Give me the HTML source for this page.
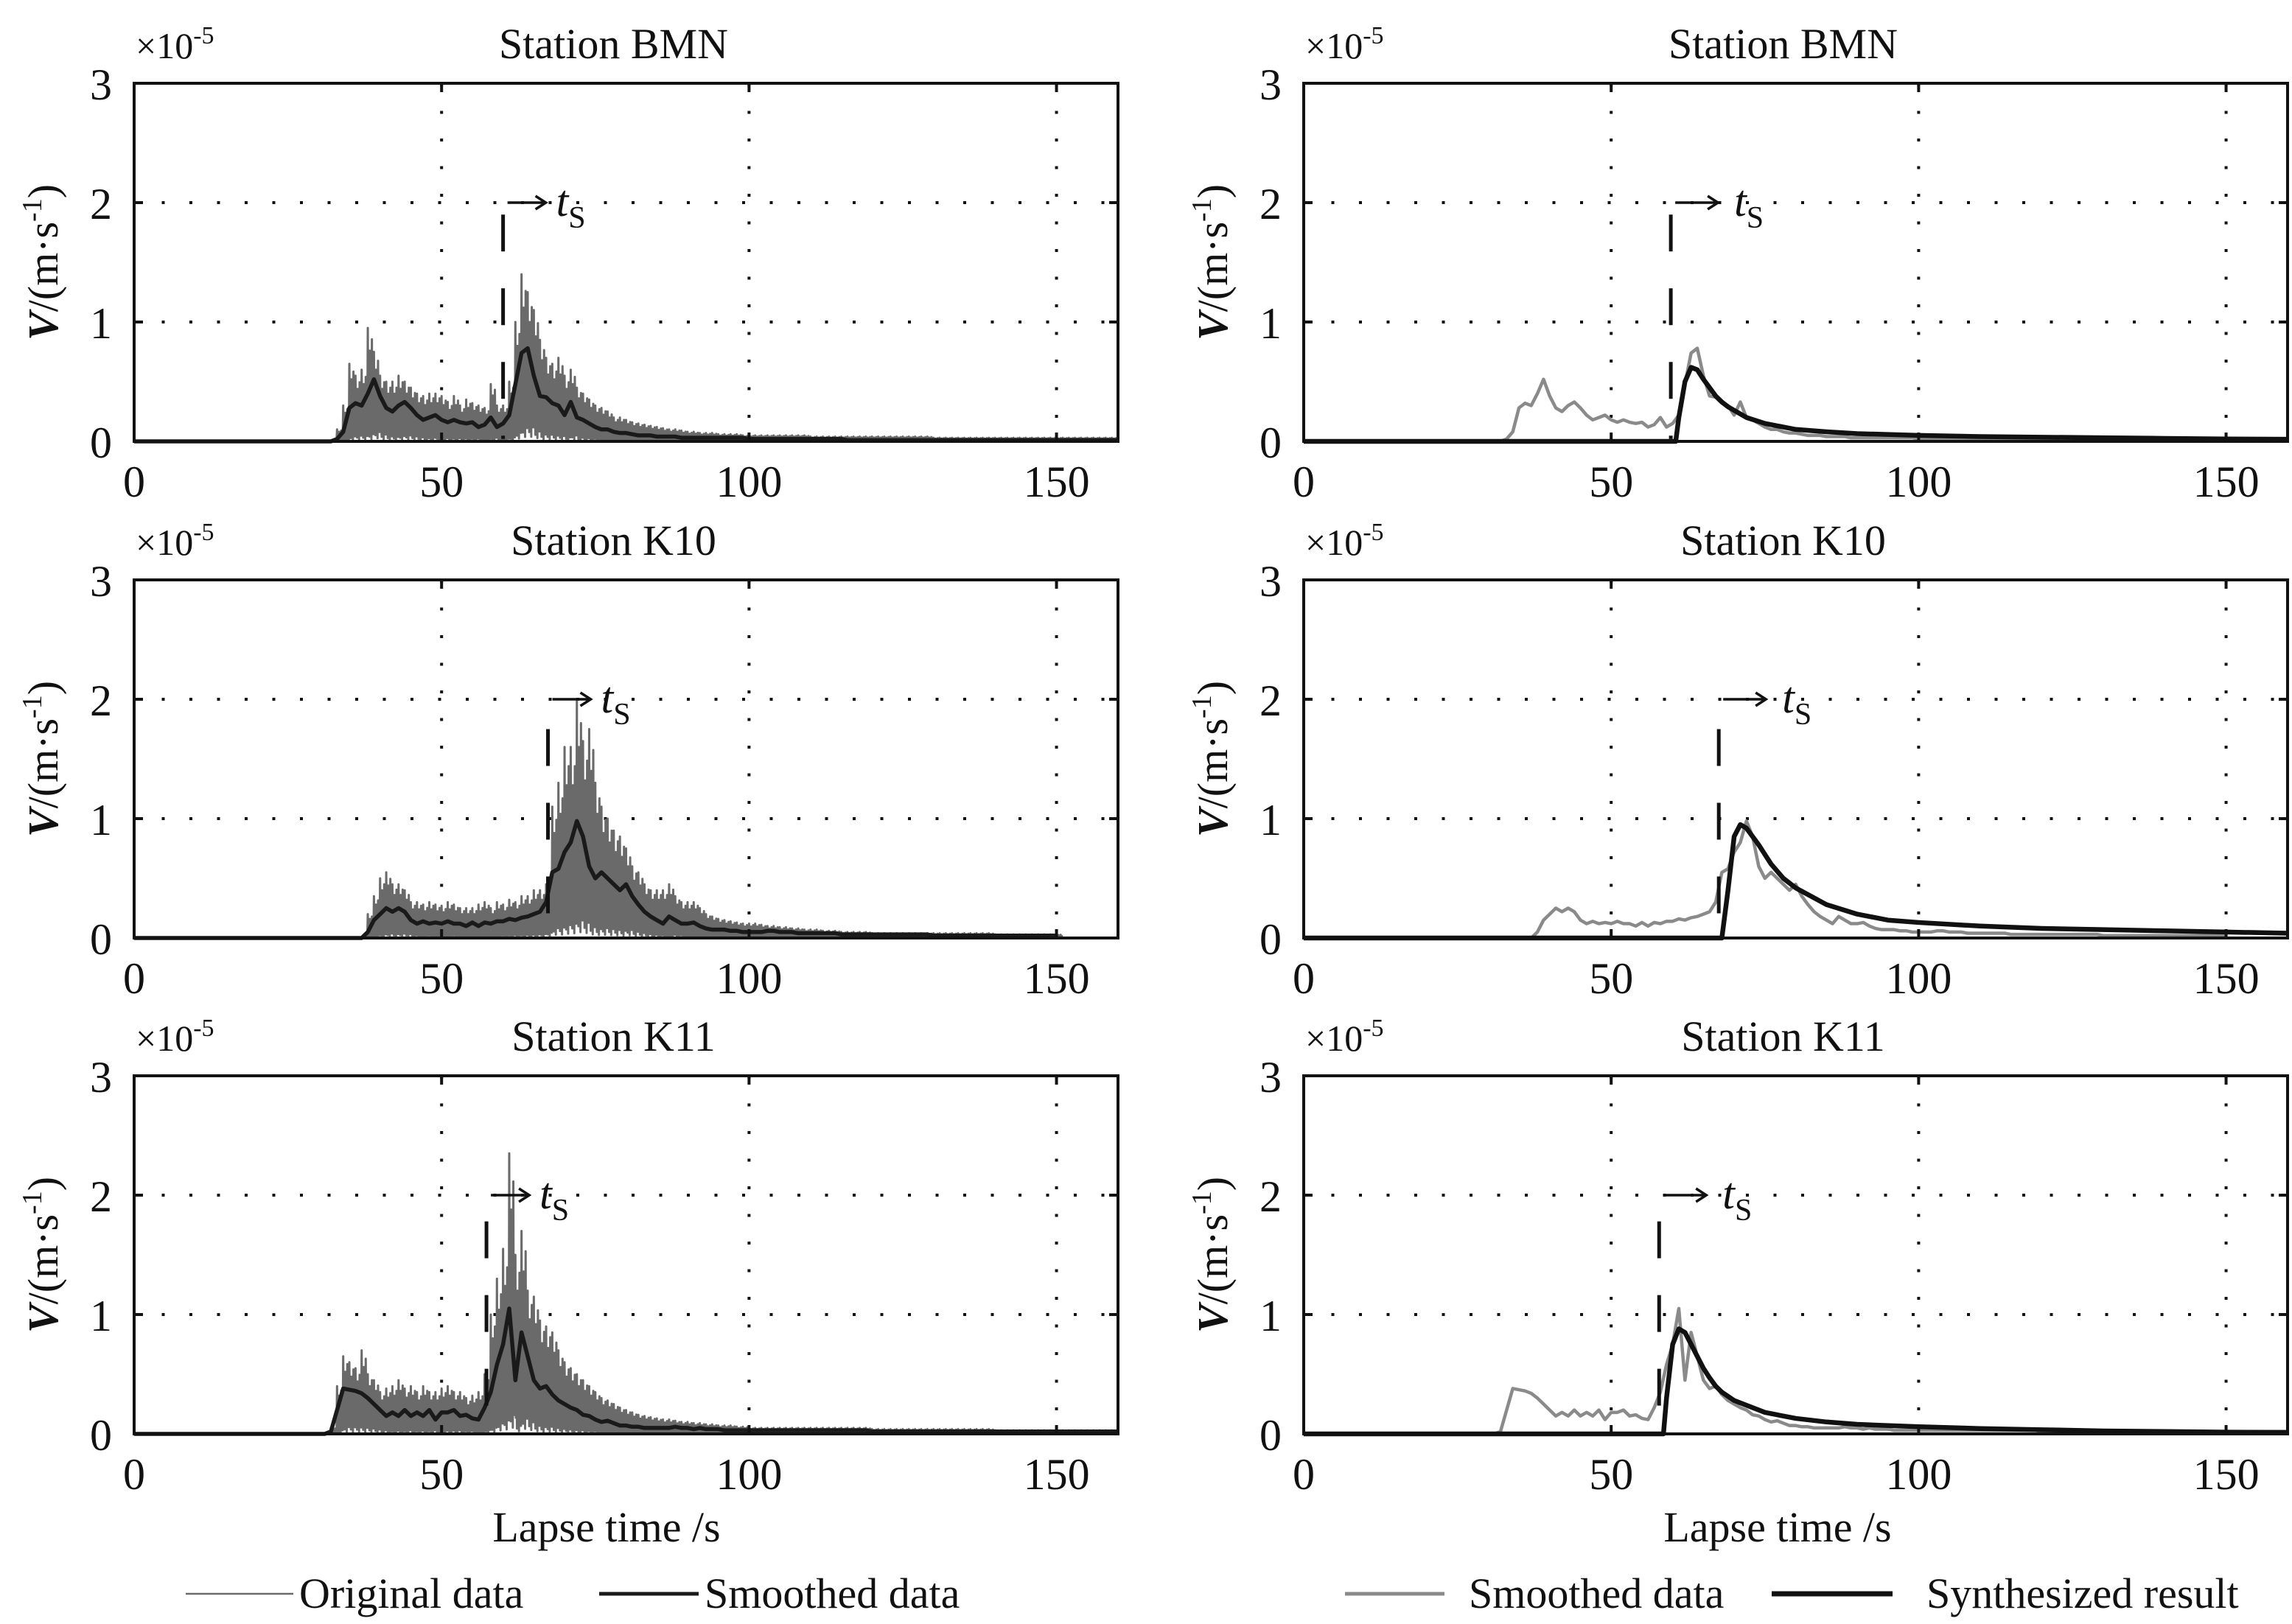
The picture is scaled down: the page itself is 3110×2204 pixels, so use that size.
<!DOCTYPE html>
<html><head><meta charset="utf-8"><style>
html,body{margin:0;padding:0;background:#fff;}
svg{display:block;}
text{font-family:"Liberation Serif",serif;fill:#111;}
</style></head><body>
<svg id="fig" width="3110" height="2204" viewBox="0 0 3110 2204" xmlns="http://www.w3.org/2000/svg"></svg>
<script>
function rep(n,v){return Array(n).fill(v);}
// time axis starts at 30 s, 1 s step
const T0 = 30;
const xTicks = [0,50,100,150];
const yTicks = [0,1,2,3];
const stations = ["Station BMN","Station K10","Station K11"];
// smoothed data (x1e-5 m/s)
const smBMN = [0,0,0,0.02,0.08,0.28,0.32,0.30,0.40,0.52,
 0.38,0.28,0.25,0.30,0.33,0.28,0.22,0.18,0.20,0.22,
 0.18,0.16,0.18,0.16,0.15,0.16,0.12,0.14,0.20,0.12,
 0.15,0.22,0.48,0.74,0.78,0.55,0.38,0.37,0.32,0.30,
 0.22,0.33,0.20,0.18,0.15,0.12,0.10,0.10,0.08,0.07,
 0.07,0.06,0.05,0.05,0.05,0.04,0.04,0.04,0.04,0.03,
 ...rep(10,0.03),...rep(16,0.02),...rep(45,0.01)];
const pkBMN = [0,0,0,0.10,0.30,0.65,0.55,0.60,0.95,0.75,
 0.55,0.50,0.50,0.55,0.50,0.45,0.40,0.38,0.40,0.40,
 0.38,0.33,0.38,0.30,0.35,0.32,0.30,0.28,0.48,0.30,
 0.30,0.50,1.00,1.40,1.25,1.10,0.85,0.70,0.65,0.70,
 0.55,0.60,0.45,0.40,0.35,0.30,0.28,0.25,0.20,0.20,
 0.18,0.16,0.15,0.14,0.13,0.12,0.11,0.10,0.10,0.09,
 0.08,0.08,0.07,0.07,0.07,0.06,0.06,0.06,0.06,0.05,
 ...rep(10,0.05),...rep(20,0.04),...rep(31,0.03)];
const smK10 = [...rep(8,0),
 0.05,0.15,0.20,0.25,0.22,0.25,0.22,0.15,0.12,0.14,0.12,0.13,
 0.12,0.14,0.12,0.12,0.10,0.13,0.10,0.13,0.12,0.14,
 0.14,0.16,0.15,0.17,0.18,0.20,0.22,0.30,
 0.55,0.58,0.72,0.80,0.98,0.85,0.60,0.50,0.55,0.50,0.45,0.40,
 0.45,0.35,0.28,0.22,0.18,0.15,0.12,0.18,0.15,0.12,
 0.12,0.13,0.10,0.08,0.07,0.07,0.07,0.06,0.06,0.05,
 0.05,0.05,0.05,0.06,0.06,0.05,0.05,0.05,0.04,0.04,
 ...rep(5,0.04),...rep(15,0.03),...rep(21,0.02)];
const pkK10 = [...rep(8,0),
 0.20,0.35,0.50,0.55,0.45,0.45,0.40,0.30,0.30,0.28,0.30,0.28,
 0.27,0.30,0.28,0.25,0.25,0.25,0.28,0.30,0.25,0.30,
 0.28,0.32,0.30,0.35,0.35,0.40,0.40,0.45,
 1.10,1.30,1.60,1.60,2.00,1.65,1.75,1.30,1.10,1.00,0.90,0.85,
 0.75,0.60,0.55,0.45,0.40,0.40,0.40,0.45,0.35,0.30,
 0.30,0.30,0.25,0.20,0.18,0.16,0.15,0.14,0.13,0.12,
 0.12,0.12,0.11,0.10,0.10,0.09,0.09,0.08,0.08,0.07,
 0.07,0.07,0.06,0.06,0.06,0.05,0.05,0.05,0.05,0.05,
 ...rep(20,0.04),...rep(21,0.03)];
const smK11 = [0,0,0.02,0.20,0.38,0.37,0.36,0.34,0.30,0.25,
 0.20,0.15,0.18,0.15,0.20,0.15,0.18,0.15,0.20,0.12,
 0.18,0.18,0.20,0.15,0.16,0.13,0.12,0.22,0.35,0.58,
 0.75,1.05,0.45,0.85,0.65,0.45,0.38,0.40,0.33,0.28,
 0.25,0.22,0.20,0.16,0.15,0.12,0.10,0.11,0.09,0.07,
 0.07,0.06,0.06,0.05,0.05,0.05,0.05,0.05,0.06,0.05,
 0.05,0.04,0.05,0.04,0.04,0.04,0.03,0.03,0.03,0.03,
 ...rep(20,0.03),...rep(41,0.02)];
const pkK11 = [0,0,0.05,0.40,0.65,0.60,0.55,0.70,0.50,0.45,
 0.35,0.38,0.40,0.45,0.38,0.40,0.35,0.40,0.35,0.35,
 0.38,0.40,0.35,0.35,0.30,0.32,0.35,0.50,1.00,1.30,
 1.55,2.35,1.50,1.70,1.20,1.15,0.95,0.90,0.85,0.70,
 0.60,0.55,0.50,0.45,0.40,0.35,0.30,0.28,0.25,0.22,
 0.20,0.18,0.16,0.15,0.14,0.13,0.12,0.12,0.11,0.10,
 0.10,0.09,0.09,0.08,0.08,0.07,0.07,0.07,0.06,0.06,
 ...rep(20,0.05),...rep(20,0.04),...rep(21,0.03)];
// synthesized result knots
const synT_BMN = [0,60.5,61,62,63,64,65,66,67,68,69,70,72,75,80,85,90,100,110,120,130,140,150,160];
const synV_BMN = [0,0,0.2,0.5,0.62,0.6,0.52,0.45,0.38,0.33,0.29,0.26,0.2,0.15,0.1,0.08,0.065,0.05,0.04,0.035,0.03,0.025,0.02,0.018];
const synT_K10 = [0,68,69,70,71,72,73,74,75,76,78,80,85,90,95,100,110,120,130,140,150,160];
const synV_K10 = [0,0,0.4,0.85,0.95,0.92,0.85,0.78,0.7,0.62,0.5,0.42,0.28,0.2,0.15,0.13,0.1,0.08,0.07,0.06,0.05,0.04];
const synT_K11 = [0,58.5,59,60,61,62,63,64,65,66,67,68,70,75,80,85,90,100,110,120,130,140,150,160];
const synV_K11 = [0,0,0.3,0.75,0.88,0.85,0.75,0.65,0.55,0.47,0.4,0.35,0.28,0.18,0.13,0.1,0.08,0.06,0.045,0.035,0.025,0.02,0.015,0.012];
// S-wave onset marks
const tsLeft = [60,67.3,57.3];
const tsRight = [59.7,67.5,57.8];
const tsTop = [1.9,1.75,1.78];

const smooth=[smBMN,smK10,smK11], peaks=[pkBMN,pkK10,pkK11];
const synT=[synT_BMN,synT_K10,synT_K11], synV=[synV_BMN,synV_K10,synV_K11];

const NS="http://www.w3.org/2000/svg";
const svg=document.getElementById('fig');
function el(tag,attrs,parent,txt){const e=document.createElementNS(NS,tag);for(const k in attrs)e.setAttribute(k,attrs[k]);if(txt!==undefined)e.textContent=txt;(parent||svg).appendChild(e);return e;}

const rowsTop=[113,787,1460], H=486;
const cols=[{L:182,R:1517},{L:1769,R:3104}];
const pat=[1,0.5,0.8,0.35,0.9,0.6], lowPat=[0.3,0.1,0.4,0.05,0.25,0.15];

for(let c=0;c<2;c++){
 for(let r=0;r<3;r++){
  const L=cols[c].L,R=cols[c].R,Tp=rowsTop[r],B=Tp+H;
  const sx=t=>L+(R-L)*t/160, sy=v=>B-H*v/3;
  const g=el('g',{});
  
  
  for(const t of [50,100,150]){const l=el('line',{x1:sx(t),x2:sx(t),y1:Tp,y2:B,stroke:'#111','stroke-width':4,'stroke-dasharray':'4 33.5'},g);}
  for(const v of [1,2]){const l=el('line',{x1:L,x2:R,y1:sy(v),y2:sy(v),stroke:'#111','stroke-width':4,'stroke-dasharray':'4 33.5'},g);}
  const sm=smooth[r], pk=peaks[r];
  if(c===0){
   let pts=[];
   const n=pat.length;
   for(let i=0;i<sm.length;i++){const t=T0+i;if(t>160)break;
    for(let k=0;k<n;k++){const tt=t+k/n;if(tt>160)break;
     pts.push(sx(tt)+','+sy((pk[i]||0)*pat[k]));
     pts.push(sx(tt+0.5/n)+','+sy((sm[i]||0)*lowPat[k]));}}
   const o=el('polyline',{points:'0,0',fill:'none',stroke:'#6a6a6a','stroke-width':3,'stroke-linejoin':'round'},g);
   o.setAttribute('points',sx(0)+','+sy(0)+' '+sx(T0)+','+sy(0)+' '+pts.join(' '));
   
   let sp=[sx(0)+','+sy(0)];
   for(let i=0;i<sm.length;i++){const t=T0+i;if(t>160)break;sp.push(sx(t)+','+sy(sm[i]));}
   const s=el('polyline',{points:sp.join(' '),fill:'none',stroke:'#1a1a1a','stroke-width':5.5,'stroke-linejoin':'round'},g);
   
  } else {
   let sp=[sx(0)+','+sy(0)];
   for(let i=0;i<sm.length;i++){const t=T0+i;if(t>160)break;sp.push(sx(t)+','+sy(sm[i]));}
   const s=el('polyline',{points:sp.join(' '),fill:'none',stroke:'#8a8a8a','stroke-width':4.5,'stroke-linejoin':'round'},g);
   
   const yp=synT[r].map((t,i)=>sx(t)+','+sy(synV[r][i]));
   const y=el('polyline',{points:yp.join(' '),fill:'none',stroke:'#111','stroke-width':6.5,'stroke-linejoin':'round'},g);
   
  }
  const ts=c?tsRight[r]:tsLeft[r];
  const d=el('line',{x1:sx(ts),x2:sx(ts),y1:sy(tsTop[r]),y2:sy(0.02),stroke:'#111','stroke-width':5,'stroke-dasharray':'50 50'},g);
  
  const ay=sy(2);
  const ax=sx(ts)+6, ae=ax+(c?58:52);
  const ar=el('path',{d:`M${ax},${ay} L${ae},${ay} M${ae-14},${ay-9} L${ae},${ay} L${ae-14},${ay+9}`,fill:'none',stroke:'#111','stroke-width':3.5},g);
  
  const tl=el('text',{x:ae+(c?22:14),y:ay+18,'font-size':60,'font-style':'italic'},g,'t');
  
  el('tspan',{'font-size':42,'font-style':'normal',dy:16},tl,'S');
  const bx=el('rect',{x:L,y:Tp,width:R-L,height:H,fill:'none',stroke:'#111','stroke-width':4},g);
  
  for(const t of xTicks){
   el('line',{x1:sx(t),x2:sx(t),y1:B,y2:B-12,stroke:'#111','stroke-width':4},g);
   el('line',{x1:sx(t),x2:sx(t),y1:Tp,y2:Tp+12,stroke:'#111','stroke-width':4},g);
   const tx=el('text',{x:sx(t),y:B+75,'font-size':60,'text-anchor':'middle'},g,String(t));
   
  }
  for(const v of yTicks){
   el('line',{x1:L,x2:L+12,y1:sy(v),y2:sy(v),stroke:'#111','stroke-width':4},g);
   el('line',{x1:R,x2:R-12,y1:sy(v),y2:sy(v),stroke:'#111','stroke-width':4},g);
   const ty=el('text',{x:L-30,y:sy(v)+22,'font-size':60,'text-anchor':'end'},g,String(v));
   
  }
  const ex=el('text',{x:L+2,y:Tp-34,'font-size':50},g,'\u00d710');
  
  el('tspan',{'font-size':34,dy:-20},ex,'-5');
  const ti=el('text',{x:(L+R)/2-17,y:Tp-34,'font-size':58,'text-anchor':'middle'},g,stations[r]);
  
  const yl=el('text',{x:0,y:0,'font-size':58,'text-anchor':'middle',transform:`translate(${L-104},${(Tp+B)/2}) rotate(-90)`},g);
  
  el('tspan',{'font-style':'italic','font-weight':'bold'},yl,'V');
  el('tspan',{},yl,'/(m\u00b7s');
  el('tspan',{'font-size':38,dy:-22},yl,'-1');
  el('tspan',{dy:22},yl,')');
 }
 const xl=el('text',{x:c?2412:823,y:2092,'font-size':58,'text-anchor':'middle'},svg,'Lapse time /s');
 
}
function legend(x1,x2,color,w,tx,label,name){
 const g=el('g',{});
 el('line',{x1:x1,x2:x2,y1:2163,y2:2163,stroke:color,'stroke-width':w},g);
 el('text',{x:tx,y:2182,'font-size':58},g,label);
}
legend(252,398,'#6a6a6a',2.5,406,'Original data','legend-original-data');
legend(813,948,'#1a1a1a',5,956,'Smoothed data','legend-smoothed-data-left');
legend(1825,1960,'#8a8a8a',5,1993,'Smoothed data','legend-smoothed-data-right');
legend(2404,2568,'#111',7,2614,'Synthesized result','legend-synthesized-result');
</script>
</body></html>
